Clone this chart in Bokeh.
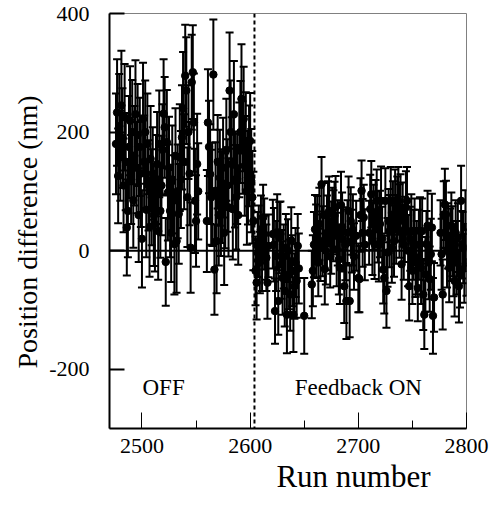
from bokeh.plotting import figure
from bokeh.models import ColumnDataSource, Whisker, TeeHead, Span, Label, FixedTicker, Title
from bokeh.embed import file_html
from bokeh.resources import INLINE

# ---------------- data: feedback OFF ----------------
runs_off = [
    2476, 2477, 2478, 2479, 2480, 2481, 2482, 2483, 2484, 2485,
    2486, 2487, 2488, 2489, 2490, 2491, 2492, 2493, 2494, 2495,
    2496, 2497, 2498, 2499, 2500, 2501, 2502, 2503, 2504, 2505,
    2506, 2507, 2508, 2509, 2510, 2511, 2512, 2513, 2514, 2515,
    2516, 2517, 2518, 2519, 2520, 2521, 2522, 2523, 2524, 2525,
    2526, 2527, 2528, 2529, 2530, 2531, 2532, 2533, 2534, 2535,
    2536, 2537, 2538, 2539, 2540, 2541, 2542, 2543, 2544, 2545,
    2546, 2547, 2548, 2549, 2550, 2551, 2552,
    2560, 2561, 2562, 2563, 2564, 2565, 2566, 2567, 2568, 2569,
    2570, 2571, 2572, 2573, 2574, 2575, 2576, 2577, 2578, 2579,
    2580, 2581, 2582, 2583, 2584, 2585, 2586, 2587, 2588, 2589,
    2590, 2591, 2592, 2593, 2594, 2595, 2596, 2597, 2598, 2599,
    2600, 2601, 2602, 2603,
]
pos_off = [
    180, 233, 126, 210, 160, 245, 190, 110, 225, 150,
    39, 67, 175, 219, 120, 200, 85, 160, 230, 140,
    195, 60, 175, 130, 20, 222, 150, 200, 69, 180,
    110, 40, 155, 90, 130, 60, 45, 120, 146, 33,
    180, 67, 110, 170, 231, 208, -19, 183, 98, 140,
    67, 30, 120, 85, 11, 160, 16, 100, 62, 157,
    120, 191, 240, 150, 295, 270, 90, 200, 130, 5,
    284, 301, 216, 84, 50, 146, 100,
    50, 216, 175, 129, 90, 95, 297, -32, 101, 16,
    150, 60, 123, 81, 90, 140, 30, 84, 170, 110,
    73, 270, 200, 146, 70, 230, 120, 90, 121, 60,
    170, 200, 256, 174, 222, 143, 185, 100, 123, 160,
    185, 118, 90, 50,
]
err_off = [
    85, 90, 80, 88, 76, 92, 84, 79, 90, 82,
    81, 78, 86, 92, 75, 88, 80, 84, 91, 77,
    86, 79, 83, 90, 82, 95, 78, 87, 80, 85,
    76, 84, 89, 81, 78, 86, 80, 75, 88, 82,
    90, 79, 84, 77, 92, 85, 74, 88, 81, 86,
    78, 83, 91, 76, 85, 80, 87, 79, 84, 90,
    82, 88, 95, 80, 86, 90, 84, 79, 87, 76,
    80, 79, 83, 88, 77, 85, 81,
    86, 90, 78, 84, 80, 87, 93, 76, 82, 88,
    79, 85, 81, 90, 77, 84, 88, 80, 86, 78,
    83, 98, 87, 79, 85, 90, 81, 88, 76, 84,
    80, 86, 92, 78, 88, 84, 82, 90, 79, 85,
    81, 87, 78, 83,
]

# ---------------- data: feedback ON ----------------
runs_on = [
    2605, 2606, 2607, 2608, 2609, 2610, 2611, 2612, 2613, 2614,
    2615, 2616, 2617, 2621, 2622, 2623, 2624, 2625, 2626, 2627,
    2628, 2629, 2630, 2631, 2632, 2633, 2634, 2635, 2636, 2637,
    2638, 2639, 2640, 2641, 2642, 2643, 2644, 2645, 2650, 2657,
    2658, 2659, 2660, 2661, 2662, 2663, 2664, 2665, 2666, 2667,
    2668, 2669, 2670, 2671, 2672, 2673, 2674, 2675, 2676, 2677,
    2678, 2679, 2680, 2681, 2682, 2683, 2684, 2685, 2686, 2687,
    2688, 2689, 2690, 2691, 2692, 2693, 2694, 2695, 2696, 2698,
    2700, 2701, 2702, 2703, 2704, 2705, 2706, 2710, 2711, 2712,
    2713, 2714, 2715, 2716, 2717, 2718, 2719, 2720, 2721, 2722,
    2723, 2724, 2725, 2726, 2727, 2728, 2729, 2730, 2731, 2732,
    2733, 2734, 2735, 2736, 2737, 2738, 2739, 2740, 2741, 2742,
    2743, 2744, 2745, 2746, 2747, 2748, 2749, 2750, 2751, 2752,
    2753, 2754, 2755, 2756, 2757, 2758, 2759, 2760, 2761, 2762,
    2763, 2764, 2765, 2766, 2767, 2768, 2769, 2770, 2776, 2777,
    2778, 2779, 2780, 2781, 2782, 2783, 2784, 2785, 2786, 2787,
    2788, 2789, 2790, 2791, 2792, 2793, 2794, 2795, 2796, 2797,
    2798, 2799, 2800,
]
pos_on = [
    -34, -54, 10, 16, -20, 36, -5, 56, 28, 5,
    -12, -54, 8, 28, 10, -102, -9, 31, -85, 22,
    28, -23, -46, -10, -68, 5, -108, 0, -40, -74,
    17, -34, -108, -60, -20, -51, 8, -30, -110, -57,
    -34, 10, 36, 16, 39, -20, 45, 5, 112, 16,
    60, -31, 0, 30, 62, 67, -10, 22, 50, 42,
    59, 73, 2, 30, -15, -29, 77, 40, 19, -60,
    10, -85, 30, 67, -85, 50, 16, 35, -10, 25,
    -46, -48, 60, 101, 30, 56, 10, 30, 70, 95,
    20, 56, 11, 62, 84, 40, 10, 45, 84, 20,
    -32, -46, 84, -68, -3, 50, 33, 84, 5, 61,
    16, 84, 36, 70, 84, 50, 73, -23, 61, 10,
    36, 73, 84, 0, -60, 20, 33, -34, 10, 33,
    -20, -12, -63, 10, 33, -29, 33, -74, -108, -40,
    11, 42, -20, -48, -6, 39, -110, -79, 30, -6,
    -74, 61, 78, 61, 0, 25, -29, 10, 42, 16,
    -20, -51, 30, -12, 22, -60, -40, 84, 10, 5,
    -30, 40, -20,
]
err_on = [
    58, 62, 55, 60, 52, 57, 63, 55, 60, 54,
    56, 61, 53, 58, 62, 55, 59, 64, 57, 60,
    55, 58, 62, 54, 60, 57, 65, 53, 59, 61,
    56, 60, 63, 55, 58, 62, 54, 59, 64, 57,
    60, 55, 58, 62, 53, 57, 61, 56, 46, 59,
    54, 60, 57, 63, 55, 58, 52, 61, 56, 60,
    57, 53, 62, 55, 59, 61, 56, 58, 54, 62,
    60, 64, 55, 58, 61, 57, 53, 60, 56, 59,
    58, 56, 62, 51, 57, 55, 60, 54, 58, 56,
    61, 55, 59, 57, 53, 60, 62, 56, 58, 54,
    57, 60, 55, 62, 58, 54, 61, 57, 59, 56,
    60, 53, 58, 55, 57, 62, 56, 60, 54, 59,
    55, 61, 57, 60, 58, 54, 62, 56, 59, 55,
    58, 62, 56, 59, 57, 61, 55, 60, 58, 63,
    56, 59, 62, 55, 60, 57, 64, 58, 55, 60,
    59, 56, 60, 57, 62, 55, 58, 61, 56, 59,
    57, 60, 55, 62, 58, 61, 56, 59, 57, 60,
    58, 62, 56,
]

x_ticks = [2500, 2600, 2700, 2800]
x_minor = [2550, 2650, 2750]
y_ticks = [-200, 0, 200, 400]
y_tick_labels = {-200: "-200", 0: "0", 200: "200", 400: "400"}
feedback_switch_run = 2604

FONT = "Liberation Serif"

runs = runs_off + runs_on
pos = pos_off + pos_on
err = err_off + err_on
n = min(len(runs), len(pos), len(err))
runs, pos, err = runs[:n], pos[:n], err[:n]

src = ColumnDataSource(dict(
    x=runs, y=pos,
    upper=[v + e for v, e in zip(pos, err)],
    lower=[v - e for v, e in zip(pos, err)],
))

p = figure(width=490, height=508, x_range=(2470, 2800), y_range=(-300, 400),
           output_backend="svg", toolbar_location=None,
           min_border_left=109, min_border_right=24,
           min_border_top=13, min_border_bottom=80)
p.background_fill_color = "white"
p.border_fill_color = "white"
p.outline_line_color = "#808080"
p.outline_line_width = 1
p.xgrid.grid_line_color = None
p.ygrid.grid_line_color = None

# x axis
xa = p.xaxis[0]
xa.ticker = FixedTicker(ticks=x_ticks, minor_ticks=x_minor)
xa.axis_line_color = "black"
xa.axis_line_width = 2
xa.major_tick_in = 16
xa.major_tick_out = 0
xa.minor_tick_in = 8
xa.minor_tick_out = 0
xa.major_tick_line_color = "black"
xa.minor_tick_line_color = "black"
xa.major_tick_line_width = 1
xa.minor_tick_line_width = 1
xa.major_label_text_font = FONT
xa.major_label_text_font_size = "22px"
xa.major_label_text_color = "black"
xa.major_label_standoff = 10

# y axis
ya = p.yaxis[0]
ya.ticker = FixedTicker(ticks=y_ticks, minor_ticks=[])
ya.major_label_overrides = y_tick_labels
ya.axis_line_color = "black"
ya.axis_line_width = 2
ya.major_tick_in = 15
ya.major_tick_out = 0
ya.minor_tick_in = 0
ya.minor_tick_out = 0
ya.major_tick_line_color = "black"
ya.major_tick_line_width = 2
ya.major_label_text_font = FONT
ya.major_label_text_font_size = "22px"
ya.major_label_text_color = "black"
ya.major_label_standoff = 20

# axis titles, shifted along the axis as in the reference
p.add_layout(Title(text="Run number", align="right", offset=36, standoff=6,
                   vertical_align="top",
                   text_font=FONT, text_font_size="31px", text_font_style="normal",
                   text_color="black"), "below")
p.add_layout(Title(text="Position difference (nm)", align="left", offset=60, standoff=8,
                   text_font=FONT, text_font_size="28px", text_font_style="normal",
                   text_color="black"), "left")

# reference lines
p.add_layout(Span(location=0, dimension="width", line_color="black",
                  line_width=2, level="underlay"))
p.add_layout(Span(location=feedback_switch_run, dimension="height",
                  line_color="black", line_width=2, line_dash="4 3",
                  level="underlay"))

# error bars and points
p.add_layout(Whisker(source=src, base="x", upper="upper", lower="lower",
                     line_color="black", line_width=2,
                     upper_head=TeeHead(size=8, line_color="black", line_width=2),
                     lower_head=TeeHead(size=8, line_color="black", line_width=2)))
p.scatter("x", "y", source=src, size=7.5, color="black")

# annotations
p.add_layout(Label(x=2520, y=-231, text="OFF", text_font=FONT,
                   text_font_size="23px", text_align="center",
                   text_baseline="alphabetic", text_color="black"))
p.add_layout(Label(x=2700, y=-231, text="Feedback ON", text_font=FONT,
                   text_font_size="23px", text_align="center",
                   text_baseline="alphabetic", text_color="black"))

open("out.html", "w").write(file_html(p, INLINE))
